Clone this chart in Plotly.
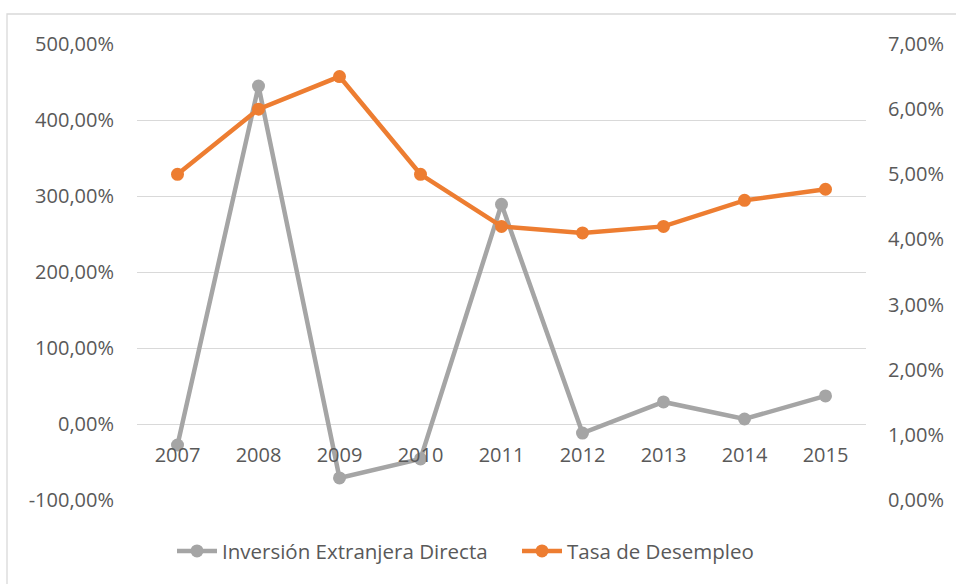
import plotly.graph_objects as go

years = ["2007", "2008", "2009", "2010", "2011", "2012", "2013", "2014", "2015"]
ied = [-0.276, 4.447, -0.71, -0.46, 2.89, -0.12, 0.29, 0.066, 0.37]
desempleo = [0.050, 0.060, 0.065, 0.050, 0.042, 0.041, 0.042, 0.046, 0.0477]

left_ticks = [-1, 0, 1, 2, 3, 4, 5]
left_labels = ["-100,00%", "0,00%", "100,00%", "200,00%", "300,00%", "400,00%", "500,00%"]
right_ticks = [0, 0.01, 0.02, 0.03, 0.04, 0.05, 0.06, 0.07]
right_labels = ["0,00%", "1,00%", "2,00%", "3,00%", "4,00%", "5,00%", "6,00%", "7,00%"]

GREY = "#A5A5A5"
ORANGE = "#ED7D31"
TXT = "#595959"
FONT = "Open Sans"
FS = 20

fig = go.Figure()
fig.add_trace(go.Scatter(
    x=years, y=ied, name="Inversión Extranjera Directa", mode="lines+markers",
    line=dict(color=GREY, width=4.5), marker=dict(color=GREY, size=13),
    yaxis="y", xaxis="x"))
fig.add_trace(go.Scatter(
    x=years, y=desempleo, name="Tasa de Desempleo", mode="lines+markers",
    line=dict(color=ORANGE, width=4.5), marker=dict(color=ORANGE, size=13),
    yaxis="y2", xaxis="x"))

fig.update_layout(
    width=956, height=584,
    margin=dict(l=137, r=90, t=44, b=84, autoexpand=False),
    paper_bgcolor="white", plot_bgcolor="white",
    font=dict(family=FONT, size=FS, color=TXT),
    showlegend=True,
    legend=dict(orientation="h", x=(172 - 137) / 729, xanchor="left",
                y=-0.112, yanchor="middle",
                font=dict(family=FONT, size=20.5, color=TXT),
                itemwidth=40, entrywidth=290, entrywidthmode="pixels",
                traceorder="normal"),
    xaxis=dict(type="category", anchor="free", position=1/6, showgrid=False,
               showline=False, ticks="", zeroline=False, ticklabelstandoff=17,
               range=[-0.5, 8.5], tickfont=dict(family=FONT, size=FS, color=TXT)),
    yaxis=dict(range=[-1, 5], tickvals=left_ticks, ticktext=left_labels, showgrid=True,
               gridcolor="#D9D9D9", gridwidth=1.3, zeroline=False, showline=False,
               ticks="", ticklabelstandoff=22,
               tickfont=dict(family=FONT, size=FS, color=TXT)),
    yaxis2=dict(range=[0, 0.07], tickvals=right_ticks, ticktext=right_labels,
                overlaying="y", side="right", showgrid=False, zeroline=False,
                showline=False, ticks="", ticklabelstandoff=21,
                tickfont=dict(family=FONT, size=FS, color=TXT)),
    shapes=[dict(type="rect", xref="paper", yref="paper",
                 x0=(7 - 137) / 729, x1=1.5, y0=-0.5, y1=(500 - 14) / 456,
                 line=dict(color="#D9D9D9", width=1.3), fillcolor="rgba(0,0,0,0)",
                 layer="below")],
)

fig.write_html(
    "out.html",
    config={"displayModeBar": False},
    post_script="document.body.style.margin='0';document.body.style.overflow='hidden';",
)
